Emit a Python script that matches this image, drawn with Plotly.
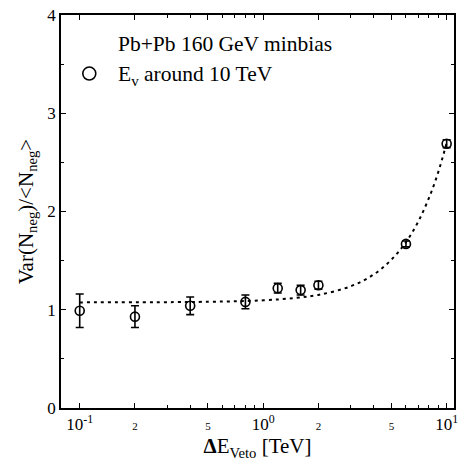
import plotly.graph_objects as go

# Measured points: veto energy window (TeV) vs scaled variance
veto_tev = [0.1, 0.2, 0.4, 0.8, 1.2, 1.6, 2.0, 6.0, 10.0]
scaled_var = [0.99, 0.93, 1.04, 1.08, 1.22, 1.20, 1.25, 1.67, 2.69]
scaled_err = [0.17, 0.11, 0.09, 0.07, 0.05, 0.05, 0.04, 0.03, 0.04]

# Fit curve samples
fit_x = [0.1, 0.5, 1.0, 1.5, 2.0, 3.0, 4.0, 5.0, 6.0, 7.0, 8.0, 9.0, 10.0]
fit_y = [1.075, 1.081, 1.096, 1.120, 1.151, 1.239, 1.359, 1.510, 1.689, 1.897, 2.136, 2.401, 2.70]

# Axis ticks
x_tick_vals = [0.1, 0.2, 0.5, 1, 2, 5, 10]
x_tick_text = ["10<sup>-1</sup>", "<span style='font-size:11px'>2</span>",
               "<span style='font-size:11px'>5</span>", "10<sup>0</sup>",
               "<span style='font-size:11px'>2</span>",
               "<span style='font-size:11px'>5</span>", "10<sup>1</sup>"]
y_tick_vals = [0, 1, 2, 3, 4]

FONT = "Liberation Serif"

fig = go.Figure()
fig.add_trace(go.Scatter(
    x=fit_x, y=fit_y, mode="lines", line_shape="spline",
    line=dict(color="black", width=2, dash="3px,4px"), hoverinfo="skip",
))
fig.add_trace(go.Scatter(
    x=veto_tev, y=scaled_var, mode="markers",
    marker=dict(symbol="circle-open", size=9, color="black", line=dict(width=1.6)),
    error_y=dict(type="data", array=scaled_err, color="black", thickness=1.6, width=4),
))

fig.update_layout(
    width=464, height=468,
    margin=dict(l=61, r=6, t=12, b=60),
    paper_bgcolor="white", plot_bgcolor="white",
    showlegend=False,
    font=dict(family=FONT, color="black", size=17),
    xaxis=dict(
        type="log", range=[-1.102, 1.04],
        tickmode="array", tickvals=x_tick_vals, ticktext=x_tick_text,
        ticks="inside", ticklen=5, tickwidth=1, tickcolor="black",
        minor=dict(ticks="inside", ticklen=3, tickcolor="black",
                   tickvals=[0.3, 0.4, 0.6, 0.7, 0.8, 0.9, 3, 4, 6, 7, 8, 9]),
        showline=True, linecolor="black", linewidth=1.5, mirror="ticks",
        showgrid=False, zeroline=False,
        title=dict(text="<b>Δ</b>E<sub>Veto</sub> [TeV]", font=dict(size=21), standoff=4),
    ),
    yaxis=dict(
        range=[0, 4], tickmode="array", tickvals=y_tick_vals,
        ticks="inside", ticklen=5, tickwidth=1, tickcolor="black",
        minor=dict(ticks="inside", ticklen=3, tickcolor="black", dtick=0.5),
        showline=True, linecolor="black", linewidth=1.5, mirror="ticks",
        showgrid=False, zeroline=False,
        title=dict(text="Var(N<sub>neg</sub>)/&lt;N<sub>neg</sub>&gt;", font=dict(size=21), standoff=8),
    ),
)

# Legend block
fig.add_annotation(xref="paper", yref="paper", x=0.14, y=0.926, xanchor="left", yanchor="middle",
                   text="Pb+Pb 160 GeV minbias", showarrow=False, font=dict(size=21.5))
fig.add_annotation(xref="paper", yref="paper", x=0.14, y=0.846, xanchor="left", yanchor="middle",
                   text="E<sub>v</sub> around 10 TeV", showarrow=False, font=dict(size=21.5))
fig.add_shape(type="circle", xref="paper", yref="paper", xsizemode="pixel", ysizemode="pixel",
              xanchor=0.072, yanchor=0.851, x0=-6.5, x1=6.5, y0=-6.5, y1=6.5,
              line=dict(color="black", width=1.6))

fig.write_html("out.html")
